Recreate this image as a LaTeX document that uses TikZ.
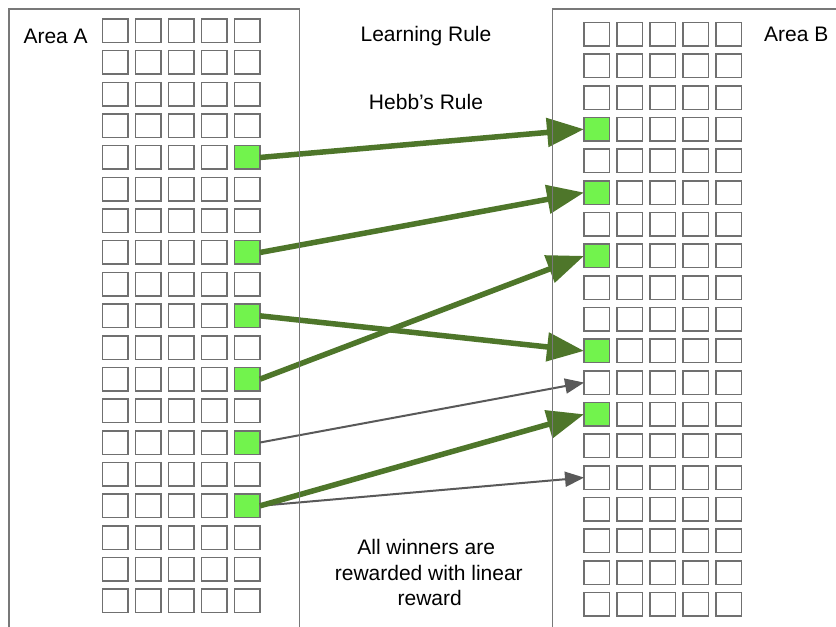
\documentclass[tikz,border=0pt]{standalone}
\usepackage{fontspec}
\setmainfont{Liberation Sans}
\usetikzlibrary{arrows.meta}
\definecolor{lgreen}{RGB}{114,243,77}
\definecolor{dgreen}{RGB}{78,118,42}
\definecolor{cellgray}{RGB}{112,112,112}
\definecolor{boxgray}{RGB}{120,120,120}
\definecolor{thingray}{RGB}{89,89,89}
\tikzset{
  cell/.style={draw=cellgray, line width=1.5pt, minimum width=25.5pt, minimum height=23.5pt, inner sep=0pt, outer sep=0pt},
  lbl/.style={inner sep=0pt, font=\fontsize{21}{25.7}\selectfont},
  thick arrow/.style={draw=dgreen, line width=5.5pt, -{Triangle[length=37pt, width=28pt]}},
  thin arrow/.style={draw=thingray, line width=2pt, -{Triangle[length=19pt, width=15pt]}},
  areabox/.style={draw=boxgray, line width=1.3pt}
}
\begin{document}
\begin{tikzpicture}[x=1pt, y=-1pt]
\clip (0,0) rectangle (836,627);
\fill[white] (0,0) rectangle (836,627);
% Area A cells
\foreach \i in {0,...,18}{
  \foreach \j in {1,...,5}{
    \pgfmathtruncatemacro\g{(\j==5)&&(\i==4||\i==7||\i==9||\i==11||\i==13||\i==15)}
    \ifnum\g=1 \def\fc{lgreen}\else\def\fc{white}\fi
    \node[cell, fill=\fc] (a-\i-\j) at ({115.2+33*(\j-1)}, {30.8+31.67*\i}) {};
  }
}
% Area B cells
\foreach \i in {0,...,18}{
  \foreach \j in {1,...,5}{
    \pgfmathtruncatemacro\g{(\j==1)&&(\i==3||\i==5||\i==7||\i==10||\i==12)}
    \ifnum\g=1 \def\fc{lgreen}\else\def\fc{white}\fi
    \node[cell, fill=\fc] (b-\i-\j) at ({596.8+33*(\j-1)}, {34.2+31.67*\i}) {};
  }
}
% thin arrows
\draw[thin arrow] (a-13-5.east) -- (b-11-1.west);
\draw[thin arrow] (a-15-5.east) -- (b-14-1.west);
% thick arrows
\draw[thick arrow] (a-4-5.east) -- (b-3-1.west);
\draw[thick arrow] (a-7-5.east) -- (b-5-1.west);
\draw[thick arrow] (a-9-5.east) -- (b-10-1.west);
\draw[thick arrow] (a-11-5.east) -- (b-7-1.west);
\draw[thick arrow] (a-15-5.east) -- (b-12-1.west);
% area boxes
\draw[areabox] (9,9) rectangle (299.3,700);
\draw[areabox] (552.3,9) rectangle (900,700);
% labels
\node[lbl, anchor=base west] (areaA) at (23.3,43.3) {Area A};
\node[lbl, anchor=base west] (areaB) at (764,41.7) {Area B};
\node[lbl, anchor=base] (learn) at (426,41.7) {Learning Rule};
\node[lbl, anchor=base] (hebb) at (426,109) {Hebb’s Rule};
\node[lbl, anchor=base] (win1) at (426.2,554) {All winners are};
\node[lbl, anchor=base] (win2) at (428.8,580) {rewarded with linear};
\node[lbl, anchor=base] (win3) at (429.7,605) {reward};
\end{tikzpicture}
\end{document}
